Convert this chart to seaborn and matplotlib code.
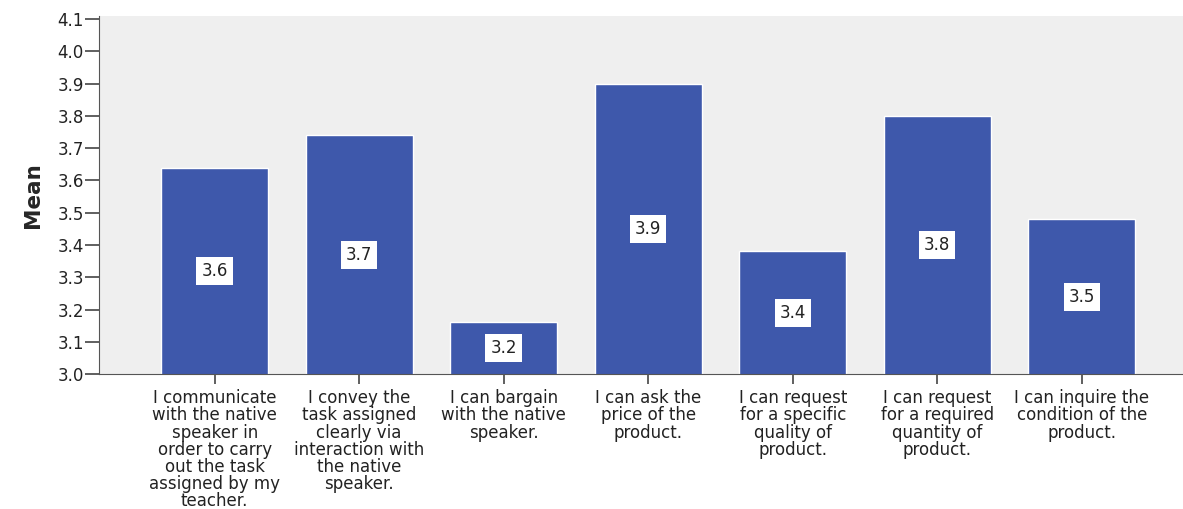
import pandas as pd
import matplotlib.pyplot as plt
import seaborn as sns

# Item labels (wrapped like the original) and their mean scores
items = [
    "I communicate\nwith the native\nspeaker in\norder to carry\nout the task\nassigned by my\nteacher.",
    "I convey the\ntask assigned\nclearly via\ninteraction with\nthe native\nspeaker.",
    "I can bargain\nwith the native\nspeaker.",
    "I can ask the\nprice of the\nproduct.",
    "I can request\nfor a specific\nquality of\nproduct.",
    "I can request\nfor a required\nquantity of\nproduct.",
    "I can inquire the\ncondition of the\nproduct.",
]
means = [3.64, 3.74, 3.16, 3.90, 3.38, 3.80, 3.48]

df = pd.DataFrame({"item": items, "mean": means})

sns.set_style("ticks")
plt.rcParams["font.family"] = ["DejaVu Sans"]

fig = plt.figure(figsize=(11.83, 5.09), dpi=100)
ax = fig.add_axes([0.0837, 0.2652, 0.9163, 0.7034])
ax.set_facecolor("#efefef")

sns.barplot(data=df, x="item", y="mean", color="#3e58ab", saturation=1,
            width=0.74, ax=ax, bottom=0)

# value labels in white boxes, centred vertically in each bar
for i, v in enumerate(means):
    ax.text(i, (3.0 + v) / 2, f"{v:.1f}", ha="center", va="center",
            fontsize=12, color="#222222",
            bbox=dict(boxstyle="square,pad=0.3", fc="white", ec="none"))

ax.set_ylim(3.0, 4.11)
ax.set_xlim(-0.8, 6.7)
ax.set_yticks([3.0 + 0.1 * k for k in range(12)])
ax.set_yticklabels([f"{3.0 + 0.1 * k:.1f}" for k in range(12)], fontsize=12,
                   color="#222222")
ax.set_xticks(range(len(items)))
ax.set_xticklabels(items, fontsize=12, linespacing=0.94, color="#222222")

ax.set_xlabel("")
ax.set_ylabel("Mean", fontsize=15.5, fontweight="bold", labelpad=10)

for s in ["top", "right"]:
    ax.spines[s].set_visible(False)
ax.spines["left"].set_color("#555555")
ax.spines["bottom"].set_color("#555555")
ax.tick_params(axis="y", length=10, width=1.2, color="#444444", pad=1)
ax.tick_params(axis="x", length=7, width=1.2, color="#444444", pad=4)

fig.savefig("out.png", dpi=100)
